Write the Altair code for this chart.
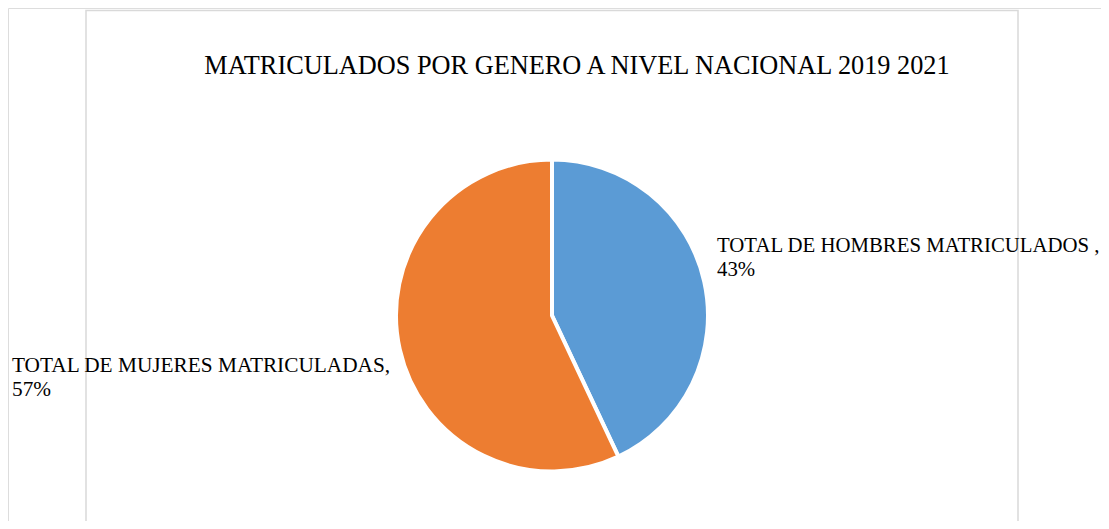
import altair as alt
import pandas as pd

# Data
categories = ["TOTAL DE HOMBRES MATRICULADOS", "TOTAL DE MUJERES MATRICULADAS"]
percentages = [43, 57]
label_texts = ["TOTAL DE HOMBRES MATRICULADOS ,", "TOTAL DE MUJERES MATRICULADAS,"]
colors = ["#5B9BD5", "#ED7D31"]
title_text = "MATRICULADOS POR GENERO A NIVEL NACIONAL 2019 2021"

df = pd.DataFrame({
    "categoria": categories,
    "porcentaje": percentages,
    "orden": list(range(len(categories))),
    "etiqueta": [f"{t}\n{p}%" for t, p in zip(label_texts, percentages)],
})

W, H = 1093, 513
FONT = "Liberation Serif"

base = alt.Chart(df)

frame = base.mark_rect(fill=None, stroke="#d9d9d9", strokeWidth=1.5).encode(
    x=alt.value(78), x2=alt.value(1010), y=alt.value(2.5), y2=alt.value(560)
).transform_filter(alt.datum.orden == 0)

pie = base.mark_arc(outerRadius=156, stroke="white", strokeWidth=4).encode(
    theta=alt.Theta("porcentaje:Q", stack=True),
    order=alt.Order("orden:O"),
    color=alt.Color("categoria:N", scale=alt.Scale(domain=categories, range=colors), legend=None),
    x=alt.value(544),
    y=alt.value(307.5),
)

title = base.mark_text(
    font=FONT, fontSize=26.3, color="#000000", align="center", baseline="alphabetic"
).encode(
    x=alt.value(569), y=alt.value(66), text=alt.value(title_text)
).transform_filter(alt.datum.orden == 0)

label_h = base.mark_text(
    font=FONT, fontSize=20.8, color="#000000", align="left", baseline="alphabetic",
    lineBreak="\n", lineHeight=23.5
).encode(
    x=alt.value(709), y=alt.value(244), text="etiqueta:N"
).transform_filter(alt.datum.orden == 0)

label_m = base.mark_text(
    font=FONT, fontSize=21.3, color="#000000", align="left", baseline="alphabetic",
    lineBreak="\n", lineHeight=23.5
).encode(
    x=alt.value(4), y=alt.value(364), text="etiqueta:N"
).transform_filter(alt.datum.orden == 1)

chart = alt.layer(frame, pie, title, label_h, label_m).properties(
    width=W, height=H, autosize=alt.AutoSizeParams(type="none"), padding=0
).configure_view(stroke=None).configure(background="white")

chart.save("out.html", embed_options={"renderer": "svg", "actions": False})
